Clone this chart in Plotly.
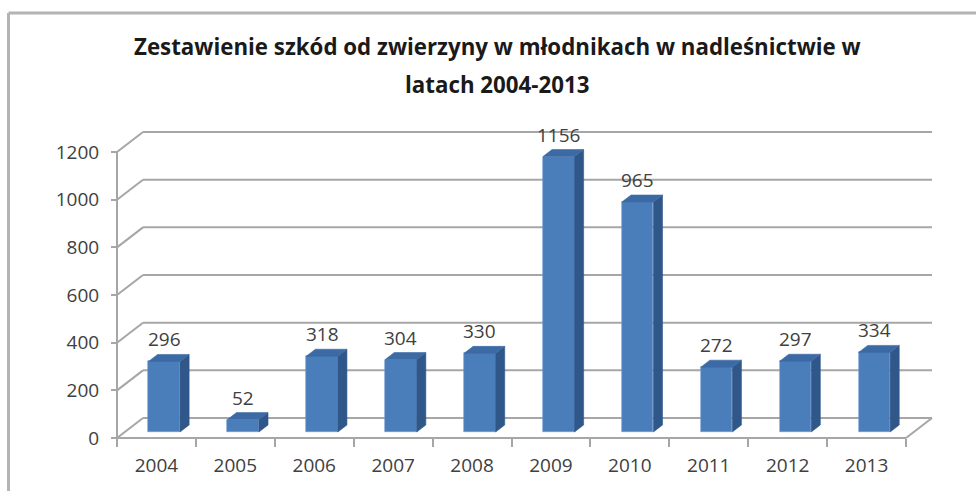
import plotly.graph_objects as go

# Data
years = ["2004", "2005", "2006", "2007", "2008", "2009", "2010", "2011", "2012", "2013"]
damage = [296, 52, 318, 304, 330, 1156, 965, 272, 297, 334]
y_ticks = [0, 200, 400, 600, 800, 1000, 1200]
title_lines = ["Zestawienie szkód od zwierzyny w młodnikach w nadleśnictwie w",
               "latach 2004-2013"]

# Canvas / projection settings (pixels)
W, H = 976, 491
PX0 = 117.0      # x of the front-left corner of the floor
CATW = 78.9      # width of one category slot
PY0 = 438.0      # y of the front zero line
PPV = 0.2383     # pixels per value unit

# depth offset of the back wall, in axis units
DX = 26.0 / CATW
DY = 20.0 / PPV

# bar geometry: front plane / back plane depth fractions and width
T_FRONT, T_BACK = 0.30, 0.65
BAR_W = 0.40

FRONT = "#4A7EBB"
SIDE = "#30578A"
TOP = "#3C6AA5"
GRID = "#A6A6A6"
TXT = "#404040"
FONT = "Open Sans"

x_range = [-PX0 / CATW, (W - PX0) / CATW]
y_range = [-(H - PY0) / PPV, PY0 / PPV]

n = len(years)
centers = [i + 0.5 + T_FRONT * DX for i in range(n)]
base = T_FRONT * DY
ddx = (T_BACK - T_FRONT) * DX
ddy = (T_BACK - T_FRONT) * DY

fig = go.Figure()

# front faces of the columns
fig.add_trace(go.Bar(
    x=centers, y=damage, base=[base] * n, width=BAR_W,
    marker=dict(color=FRONT, line=dict(width=0.6, color="#6F9AD0")),
    hoverinfo="skip", showlegend=False,
))

# right side faces and top faces
sx, sy, tx, ty = [], [], [], []
for c, v in zip(centers, damage):
    xl, xr = c - BAR_W / 2, c + BAR_W / 2
    yt = base + v
    sx += [xr, xr + ddx, xr + ddx, xr, xr, None]
    sy += [base, base + ddy, yt + ddy, yt, base, None]
    tx += [xl, xr, xr + ddx, xl + ddx, xl, None]
    ty += [yt, yt, yt + ddy, yt + ddy, yt, None]

fig.add_trace(go.Scatter(x=sx, y=sy, mode="lines", fill="toself",
                         fillcolor=SIDE, line=dict(width=0.6, color=SIDE),
                         hoverinfo="skip", showlegend=False))
fig.add_trace(go.Scatter(x=tx, y=ty, mode="lines", fill="toself",
                         fillcolor=TOP, line=dict(width=0.6, color=TOP),
                         hoverinfo="skip", showlegend=False))

shapes = []
line_style = dict(color=GRID, width=2)
# back-wall gridlines with the diagonal on the left side wall
for g in y_ticks:
    shapes.append(dict(type="line", xref="x", yref="y", x0=0, y0=g,
                       x1=DX, y1=g + DY, line=line_style, layer="below"))
    shapes.append(dict(type="line", xref="x", yref="y", x0=DX, y0=g + DY,
                       x1=n + DX, y1=g + DY, line=line_style, layer="below"))
# floor front edge and right edge
shapes.append(dict(type="line", xref="x", yref="y", x0=0, y0=0, x1=n, y1=0,
                   line=line_style, layer="below"))
shapes.append(dict(type="line", xref="x", yref="y", x0=n, y0=0, x1=n + DX, y1=DY,
                   line=line_style, layer="below"))
# vertical value axis line
shapes.append(dict(type="line", xref="x", yref="y", x0=0, y0=-8 / PPV, x1=0,
                   y1=max(y_ticks), line=line_style, layer="below"))
# outer chart frame
shapes.append(dict(type="line", xref="paper", yref="paper", x0=8.5 / W, y0=1 - 13 / H,
                   x1=1.01, y1=1 - 13 / H, line=dict(color="#B4B4B4", width=3)))
shapes.append(dict(type="line", xref="paper", yref="paper", x0=8.5 / W, y0=1 - 13 / H,
                   x1=8.5 / W, y1=-0.01, line=dict(color="#B4B4B4", width=3)))

annotations = []
# value labels above the columns
for c, v in zip(centers, damage):
    annotations.append(dict(x=c, y=base + v, xref="x", yref="y", text=str(v),
                            showarrow=False, yanchor="middle", yshift=22,
                            font=dict(family=FONT, size=19, color=TXT)))
# two-line title
for k, (line, ypx) in enumerate(zip(title_lines, [47, 85])):
    annotations.append(dict(x=497 / W, y=1 - ypx / H, xref="paper", yref="paper",
                            text="<b>%s</b>" % line, showarrow=False,
                            xanchor="center", yanchor="middle",
                            font=dict(family=FONT, size=22.3, color="#1A1A1A")))

fig.update_layout(
    width=W, height=H, margin=dict(l=0, r=0, t=0, b=0),
    paper_bgcolor="white", plot_bgcolor="rgba(0,0,0,0)",
    shapes=shapes, annotations=annotations, bargap=0,
    xaxis=dict(
        range=x_range, domain=[0, 1], anchor="free", position=(H - PY0) / H,
        showgrid=False, zeroline=False, showline=False,
        tickmode="array", tickvals=[i + 0.5 for i in range(n)], ticktext=years,
        ticks="", ticklabelstandoff=14,
        tickfont=dict(family=FONT, size=19, color=TXT),
        minor=dict(tickmode="array", tickvals=list(range(n + 1)), ticks="outside",
                   ticklen=8, tickwidth=2, tickcolor=GRID, showgrid=False),
        fixedrange=True,
    ),
    yaxis=dict(
        range=y_range, domain=[0, 1], anchor="free", position=PX0 / W,
        showgrid=False, zeroline=False, showline=False,
        tickmode="array", tickvals=y_ticks, ticks="outside", ticklen=6,
        tickwidth=2, tickcolor=GRID, ticklabelstandoff=8,
        tickfont=dict(family=FONT, size=19, color=TXT),
        fixedrange=True,
    ),
)

fig.write_html("out.html", config={"displayModeBar": False})
